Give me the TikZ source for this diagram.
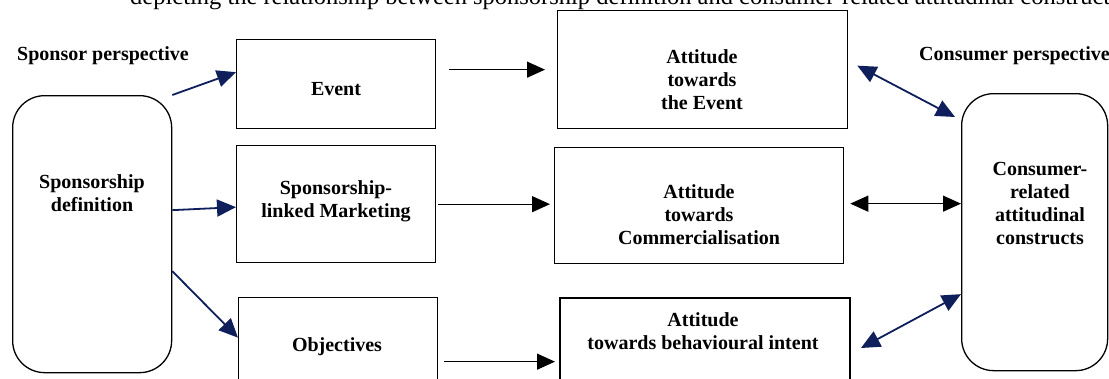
\documentclass[tikz,border=0pt]{standalone}
\usepackage{fontspec}
\setmainfont{Liberation Serif}
\usetikzlibrary{arrows.meta}
\definecolor{navy}{HTML}{0E1F5B}
\begin{document}
\begin{tikzpicture}[x=1pt,y=-1pt,
  box/.style={draw,line width=1.3pt,minimum width=#1,anchor=north west,inner sep=0pt},
  rbox/.style={draw,line width=1.3pt,rounded corners=32pt,anchor=north west,inner sep=0pt},
  lbl/.style={font=\fontsize{20}{23}\selectfont\bfseries,align=center,inner sep=0pt},
  navyarr/.style={draw=navy,line width=1.8pt,-{Triangle[length=19pt,width=17pt]},color=navy},
  navydbl/.style={draw=navy,line width=1.8pt,{Triangle[length=19pt,width=17pt]}-{Triangle[length=19pt,width=17pt]},color=navy},
  blackarr/.style={line width=1.3pt,-{Triangle[length=18pt,width=16pt]}},
  blackdbl/.style={line width=1.3pt,{Triangle[length=18pt,width=16pt]}-{Triangle[length=18pt,width=16pt]}}
]
\useasboundingbox (0,0) rectangle (1109,378);
\clip (0,0) rectangle (1109,378);
\fill[white] (0,0) rectangle (1109,378);

% cropped caption line at the top
\node[anchor=base west,inner sep=0pt,font=\fontsize{24.5}{28}\selectfont] (caption) at (130,4)
  {depicting the relationship between sponsorship definition and consumer-related attitudinal constructs};

% headings
\node[lbl] (sp) at (103,56) {Sponsor perspective};
\node[lbl,anchor=west] (cp) at (919,56) {Consumer perspective};

% rounded boxes
\node[rbox,minimum width=159pt,minimum height=277pt] (sdef) at (12,95) {};
\node[lbl] (sdeft) at (92,193) {Sponsorship\\definition};
\node[rbox,minimum width=146pt,minimum height=277pt] (cons) at (961,93) {};
\node[lbl] (const) at (1040,203) {Consumer-\\related\\attitudinal\\constructs};

% middle boxes
\node[box=199pt,minimum height=89pt] (event) at (236,39) {};
\node[lbl] (eventt) at (336,89) {Event};
\node[box=199pt,minimum height=117pt] (slm) at (236,145) {};
\node[lbl] (slmt) at (336,201) {Sponsorship-\\linked Marketing};
\node[box=199pt,minimum height=100pt] (obj) at (238,297) {};
\node[lbl] (objt) at (337,347) {Objectives};

% attitude boxes
\node[box=290pt,minimum height=118pt] (attev) at (557,10) {};
\node[lbl] (attevt) at (702,80) {Attitude\\towards\\the Event};
\node[box=289pt,minimum height=116pt] (attcom) at (554,147) {};
\node[lbl] (attcomt) at (699,215) {Attitude\\towards\\Commercialisation};
\node[box=290pt,minimum height=100pt,line width=2pt] (attbeh) at (559,297) {};
\node[lbl] (attbeht) at (703,331) {Attitude\\towards behavioural intent};

% sponsor-side arrows
\draw[navyarr] (sdef.north east) -- ([yshift=12pt]event.west);
\draw[navyarr] ([yshift=24pt]sdef.east) -- ([yshift=-3pt]slm.west);
\draw[navyarr] ([yshift=-37pt]sdef.east) -- ([yshift=10pt]obj.west);

% black arrows
\draw[blackarr] ([xshift=13pt]event.east |- attev.west) -- ([xshift=-12pt]attev.west);
\draw[blackarr] ([xshift=2pt]slm.east) -- ([xshift=-4pt]slm.east -| attcom.west);
\draw[blackarr] ([xshift=6pt,yshift=-14pt]obj.east) -- ([xshift=-4pt,yshift=-14pt]obj.east -| attbeh.west);
\draw[blackdbl] ([xshift=6pt,yshift=2pt]attcom.east) -- ([yshift=2pt]attcom.east -| cons.west);

% consumer-side arrows
\draw[navydbl] ([xshift=9pt,yshift=4pt]attev.east) -- ([xshift=-6pt,yshift=-24pt]cons.north west);
\draw[navydbl] ([xshift=10pt]attbeh.east) -- ([yshift=-62pt]cons.west);
\end{tikzpicture}
\end{document}
